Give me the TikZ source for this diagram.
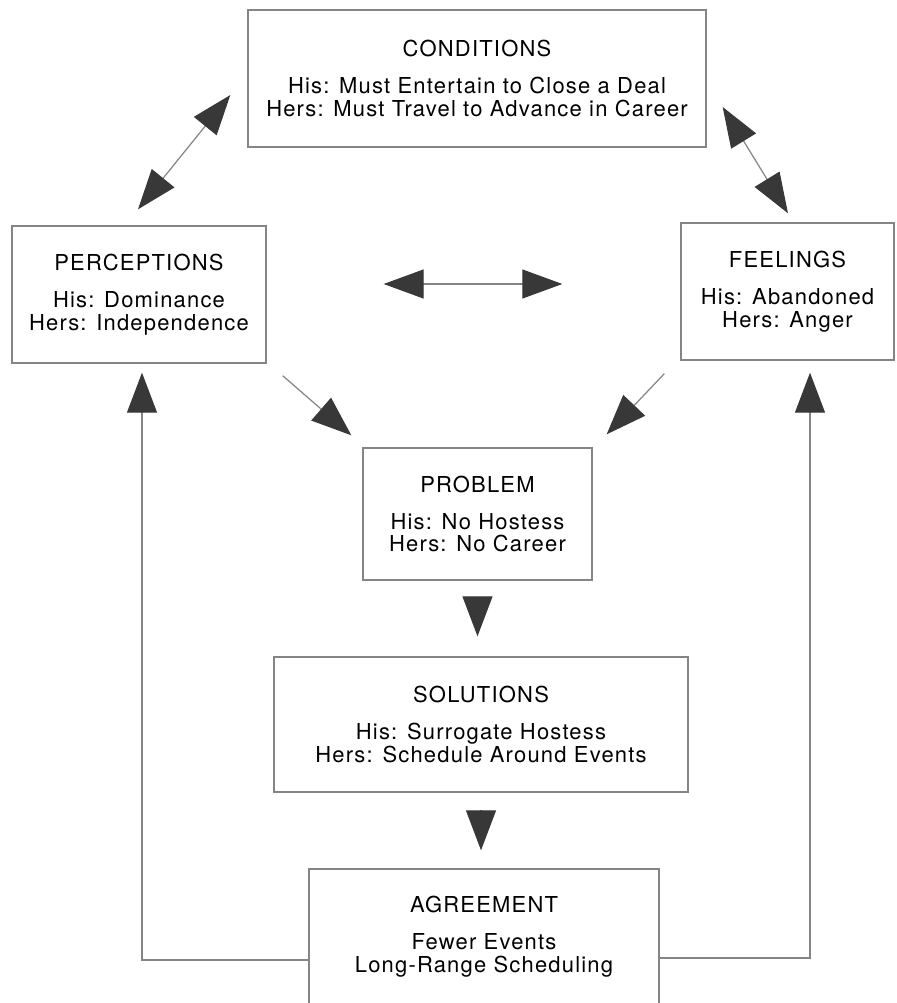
\documentclass[tikz,border=0pt]{standalone}
\usepackage{fontspec}
\setmainfont{TeX Gyre Heros}
\newfontfamily\boxfont[LetterSpace=5.5]{TeX Gyre Heros}
\usetikzlibrary{arrows.meta,calc}
\definecolor{linegray}{gray}{0.52}
\definecolor{headgray}{gray}{0.22}

\begin{document}
\begin{tikzpicture}[x=0.02cm,y=-0.02cm,
  box/.style={draw=linegray,line width=0.8pt,align=center,inner sep=0pt,
    font=\boxfont\fontsize{12.5}{13}\selectfont},
  link/.style={draw=linegray,line width=0.7pt},
  onehead/.style={-{Triangle[length=0.8cm,width=0.6cm,color=headgray]}},
  twohead/.style={{Triangle[length=0.8cm,width=0.58cm,color=headgray]}-{Triangle[length=0.8cm,width=0.58cm,color=headgray]}}]
  \useasboundingbox (0,0) rectangle (896,1003);
  % boxes
  \node[box,minimum width=9.16cm,minimum height=2.74cm] (cond) at (477,78.5)
    {CONDITIONS\\[8pt]His: Must Entertain to Close a Deal\\Hers: Must Travel to Advance in Career};
  \node[box,minimum width=5.08cm,minimum height=2.74cm] (perc) at (139,294.5)
    {PERCEPTIONS\\[8pt]His: Dominance\\Hers: Independence};
  \node[box,minimum width=4.26cm,minimum height=2.74cm] (feel) at (787.5,291.5)
    {FEELINGS\\[8pt]His: Abandoned\\Hers: Anger};
  \node[box,minimum width=4.58cm,minimum height=2.64cm] (prob) at (477.5,514)
    {PROBLEM\\[8pt]His: No Hostess\\Hers: No Career};
  \node[box,minimum width=8.28cm,minimum height=2.7cm] (sol) at (481,724.5)
    {SOLUTIONS\\[8pt]His: Surrogate Hostess\\Hers: Schedule Around Events};
  \node[box,minimum width=7cm,minimum height=2.7cm] (agr) at (484,936.5)
    {AGREEMENT\\[8pt]Fewer Events\\Long-Range Scheduling};
  % double arrows round the top
  \draw[link,twohead] ($(perc.north)+(-1,-16)$) -- ($(cond.west)+(-17,16.5)$);
  \draw[link,twohead] ($(cond.east)+(16,28.5)$) -- ($(feel.north)+(0.5,-9)$);
  \draw[link,twohead] ($(perc.east)+(117,-10.5)$) -- ($(feel.west)+(-118,-7.5)$);
  % into the problem
  \draw[link,onehead] ($(perc.south east)+(16,12)$) -- ($(prob.north west)+(-11,-12)$);
  \draw[link,onehead] ($(feel.south west)+(-16,13)$) -- ($(prob.north east)+(14,-13)$);
  % down the middle
  \draw[link,onehead,shorten <=0.34cm,shorten >=0.4cm] (prob.south) -- (prob.south |- sol.north);
  \draw[link,onehead,shorten <=0.34cm,shorten >=0.36cm] (sol.south) -- (sol.south |- agr.north);
  % feedback
  \draw[link,onehead,shorten >=0.18cm] ($(agr.west)+(0,23.5)$) -| ($(perc.south)+(3,0)$);
  \draw[link,onehead,shorten >=0.24cm] ($(agr.east)+(0,21.5)$) -| ($(feel.south)+(22.5,0)$);
\end{tikzpicture}
\end{document}
